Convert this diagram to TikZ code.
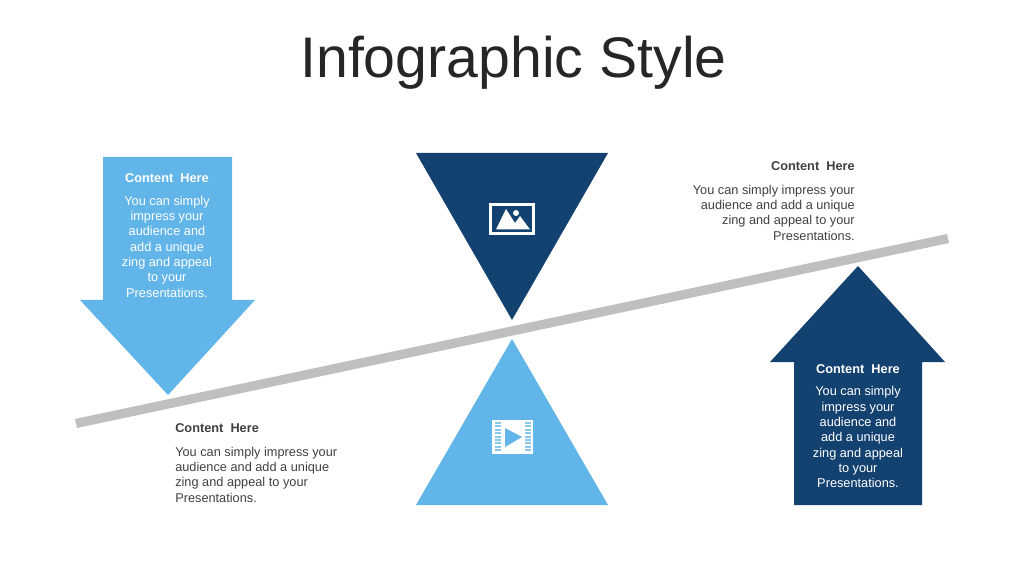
\documentclass[tikz,border=0pt]{standalone}
\usepackage{fontspec}
\usepackage{tikz}
\usetikzlibrary{positioning}
\setmainfont{Liberation Sans}
\definecolor{darkblue}{HTML}{134170}
\definecolor{lightblue}{HTML}{62B5E8}
\definecolor{beamgray}{HTML}{BFBFBF}
\definecolor{bodytext}{HTML}{404040}
\tikzstyle{head}= [inner sep=0pt, font=\fontsize{9.07}{10.9}\selectfont\bfseries]
\tikzstyle{body}= [inner sep=0pt, font=\fontsize{9.07}{10.9}\selectfont]
\tikzstyle{title}= [inner sep=0pt, text=black!85, font=\fontsize{40.7}{48}\selectfont]

\begin{document}
\begin{tikzpicture}[x=0.025cm, y=-0.025cm]
				\useasboundingbox (0,0) rectangle (1024,576);
				\node[title] (title) at (513.5,63) {Infographic Style};

				\fill[beamgray] (75,419) -- (947,234) -- (949,243) -- (77,428) -- cycle;

				\fill[lightblue] (103,157) -- (232,157) -- (232,300) -- (255,300) -- (168,395) -- (80,300) -- (103,300) -- cycle;
				\fill[darkblue] (794,505) -- (922,505) -- (922,362) -- (945,362) -- (858,266) -- (770,362) -- (794,362) -- cycle;
				\fill[darkblue] (416,153) -- (608,153) -- (512,320) -- cycle;
				\fill[lightblue] (416,505) -- (608,505) -- (512,339) -- cycle;

				% picture icon
				\draw[white, line width=2pt] (490.5,204.5) rectangle (533.5,233.5);
				\fill[white] (496,229.5) -- (506,209) -- (515,223) -- (520,216) -- (530,229.5) -- cycle;
				\fill[white] (516,213) circle (3);

				% film icon
				\fill[white] (492,420) rectangle (533,454);
				\foreach \y in {0,...,8} {
					\fill[lightblue!75!white] (495,{422+\y*3.4}) rectangle (501,{424+\y*3.4});
					\fill[lightblue!75!white] (525,{422+\y*3.4}) rectangle (531,{424+\y*3.4});
				}
				\fill[lightblue] (505,428) -- (505,447) -- (522,437) -- cycle;

				\node[head, text=white] (lefthead) at (167,178.5) {Content\ \ Here};
				\node[body, text=white, align=center, below=8.9pt of lefthead] (leftbody) {You can simply\\impress your\\audience and\\add a unique\\zing and appeal\\to your\\Presentations.};

				\node[head, text=white] (righthead) at (858,369) {Content\ \ Here};
				\node[body, text=white, align=center, below=8.9pt of righthead] (rightbody) {You can simply\\impress your\\audience and\\add a unique\\zing and appeal\\to your\\Presentations.};

				\node[head, text=bodytext, anchor=east] (tophead) at (855,166) {Content\ \ Here};
				\node[body, text=bodytext, align=right, anchor=north east] (topbody) at (855,184.5) {You can simply impress your\\audience and add a unique\\zing and appeal to your\\Presentations.};

				\node[head, text=bodytext, anchor=west] (lowhead) at (175,428) {Content\ \ Here};
				\node[body, text=bodytext, align=left, anchor=north west] (lowbody) at (175,446.5) {You can simply impress your\\audience and add a unique\\zing and appeal to your\\Presentations.};
			\end{tikzpicture}
\end{document}
